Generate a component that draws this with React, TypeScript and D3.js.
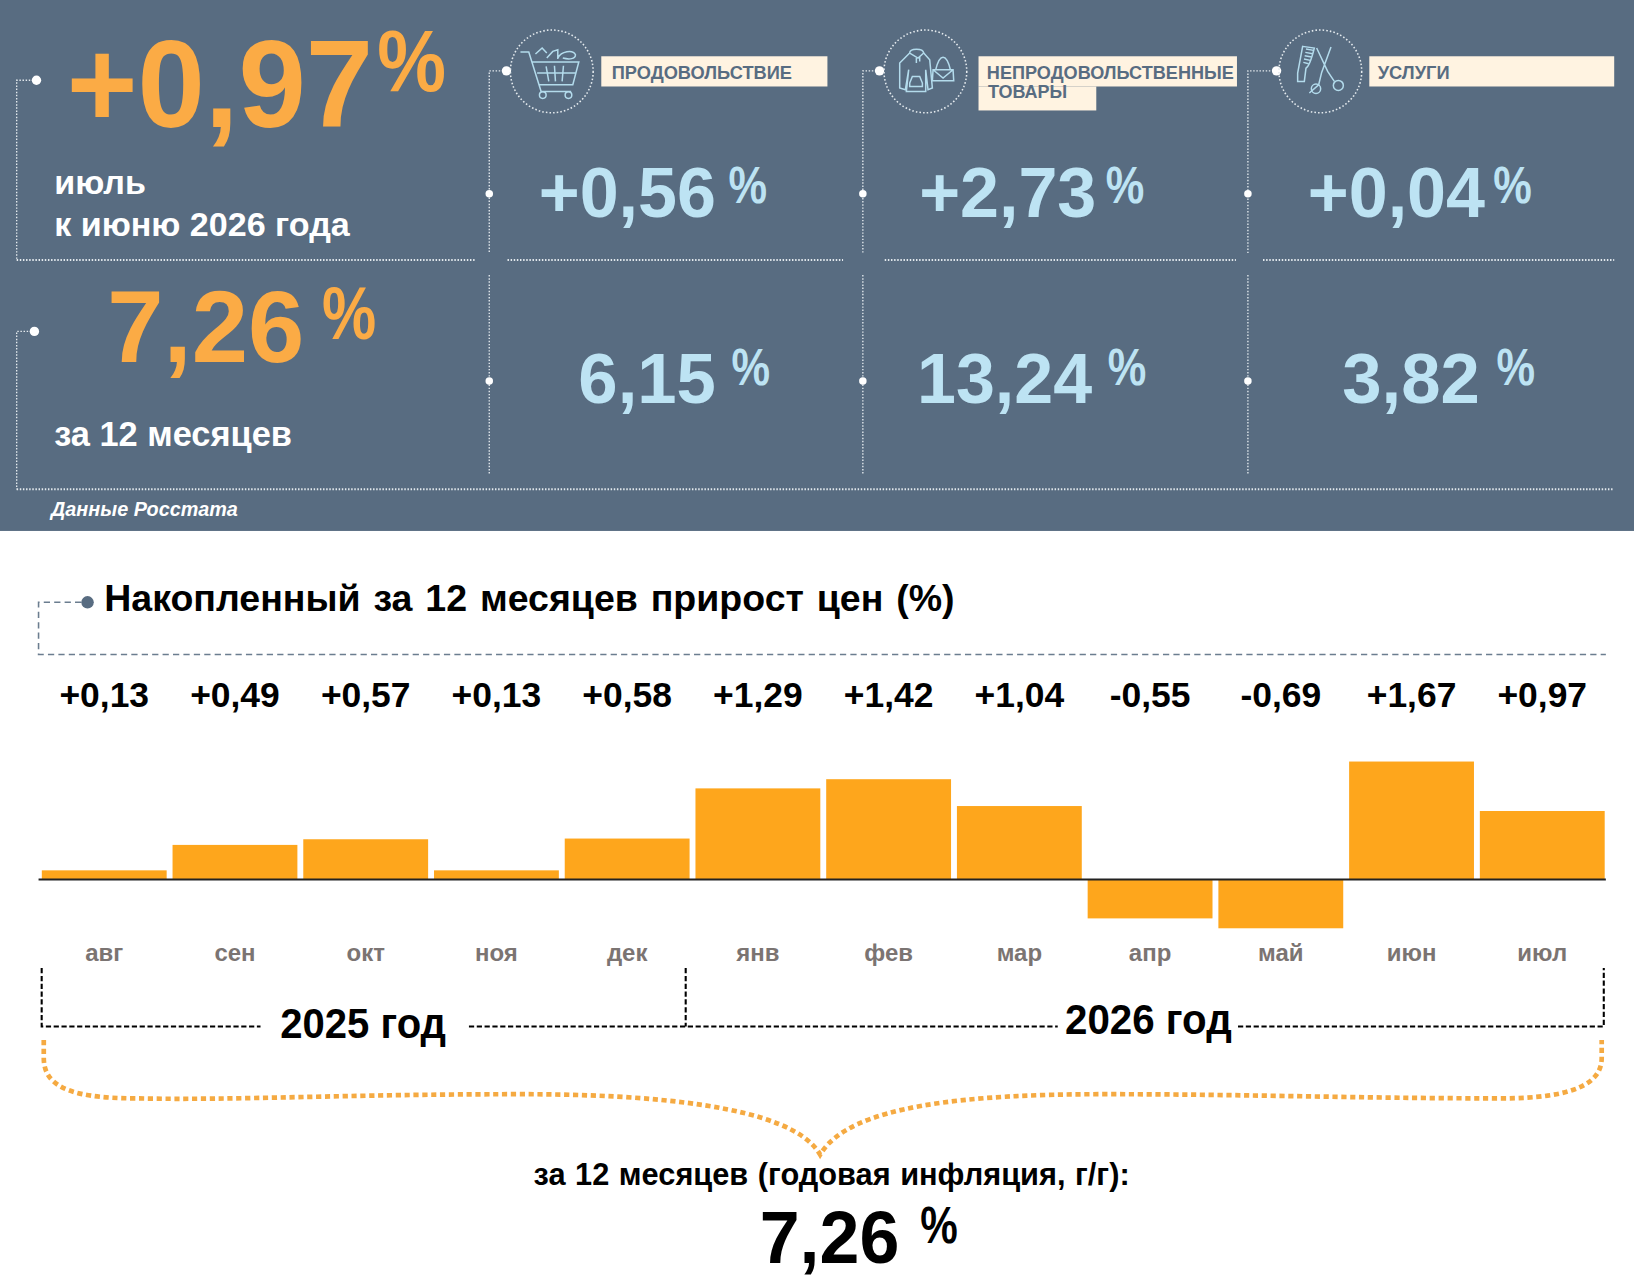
import React from "react";
import * as d3 from "d3";

const months = ["авг","сен","окт","ноя","дек","янв","фев","мар","апр","май","июн","июл"];
const monthlyValues = [0.13,0.49,0.57,0.13,0.58,1.29,1.42,1.04,-0.55,-0.69,1.67,0.97];
const monthlyLabels = ["+0,13","+0,49","+0,57","+0,13","+0,58","+1,29","+1,42","+1,04","-0,55","-0,69","+1,67","+0,97"];
const categories = ["ПРОДОВОЛЬСТВИЕ","НЕПРОДОВОЛЬСТВЕННЫЕ","УСЛУГИ"];
const monthOnMonth = ["+0,56","+2,73","+0,04"];
const yearOnYear = ["6,15","13,24","3,82"];

const W = 1568, H = W * 1282 / 1634;
const PANEL = "#586c81", ORANGE = "#fbab45", BAR = "#fea61c", BLUE = "#bde3f3", BEIGE = "#fff3e1", DOT = "#e4eaee";
const FONT = "'Liberation Sans', Arial, sans-serif";

const T = ({x,y,s,c,children,w,anchor,italic,ws}: any) => (
  <text x={x} y={y} fontSize={s} fill={c} fontWeight="700" fontStyle={italic?"italic":"normal"} fontFamily={FONT}
    textAnchor={anchor||"start"} wordSpacing={ws}
    {...(w?{textLength:w,lengthAdjust:"spacingAndGlyphs"}:{})}>{children}</text>
);
const Dotted = ({d,sw=1.3}: any) => <path d={d} fill="none" stroke={DOT} strokeWidth={sw} strokeDasharray="1.4 1.6"/>;
const Dot = ({x,y,r=4.5}: any) => <circle cx={x} cy={y} r={r} fill="#fff"/>;

const CartIcon = () => (<>
  <path d="M93,97 L118,97 L155,215 L245,215 M128,127 L268,127 L250,195 L150,195 M143,160 L258,160 M170,140 L178,185 M195,138 L198,185 M222,138 L218,185"/>
  <circle cx={160} cy={226} r={10}/><circle cx={237} cy={226} r={10}/>
  <path d="M138,103 L158,85 L172,100 M172,115 L190,95 L205,90 L205,118 M205,115 C215,95 250,88 258,105 C258,118 240,120 220,115"/>
</>);
const ClothesIcon = () => (<>
  <path d="M150,100 C150,85 190,85 192,100 L175,115 Z M170,115 L170,130 M180,112 L180,125"/>
  <path d="M135,115 L150,100 M192,100 L210,120 L218,205 L205,210 L198,150 M135,115 L120,130 L120,205 L137,210 L147,150 M147,150 L140,215 L198,215 L198,150"/>
  <path d="M150,190 L158,170 L180,170 L188,190 L188,200 L150,200 Z"/>
  <path d="M220,150 L280,150 L282,183 L218,183 Z M228,150 C240,100 260,100 272,150 M220,150 L250,175 L280,150"/>
</>);
const ScissorsIcon = () => (<>
  <path d="M130,80 L165,85 C160,105 150,140 140,145 L135,185 L115,185 L115,160 Z"/>
  <path d="M140,88 L163,92 M138,98 L160,102 M136,108 L157,112 M134,118 L153,122 M132,128 L148,132"/>
  <path d="M172,85 L205,155 L225,185 M215,82 L187,158 L178,195 L150,220"/>
  <circle cx={237} cy={197} r={15}/><circle cx={170} cy={207} r={14}/>
</>);
const icons = [CartIcon, ClothesIcon, ScissorsIcon];
const iconPos = [{cx:529.5,cy:68.5,ox:187,oy:155},{cx:888,cy:68.5,ox:197,oy:155},{cx:1267,cy:68.5,ox:183,oy:155}];

export default function App() {
  const x = d3.scaleBand<string>().domain(months).range([37.3,1542.7]).paddingInner(0.045).paddingOuter(0.0225);
  const y = d3.scaleLinear().domain([0,1]).range([844,776.2]);
  const cols = [469.5,828,1197.5];
  const valX = [517,882,1255], pctX = [699,1061,1433];
  const val2X = [555,880,1288], pct2X = [702,1063,1436];
  const brace = "M42,998 L42,1015 C42,1040 62,1054 130,1054 C230,1056 330,1050 500,1050 C620,1050 760,1060 787,1108 C815,1060 930,1050 1060,1050 C1200,1050 1300,1054 1440,1054 C1510,1054 1537,1040 1537,1015 L1537,998";
  return (
    <svg width={1634} height={1282} viewBox={`0 0 ${W} ${H}`} style={{position:"absolute",left:0,top:0,background:"#fff"}}>
      <rect x={0} y={0} width={W} height={509.5} fill={PANEL}/>
      <Dotted d="M35,77 L16,77 L16,249.5"/>
      <Dotted d="M33,318 L16,318 L16,469.5"/>
      <Dotted sw={2} d="M16,249.5 L456,249.5 M487,249.5 L809,249.5 M849,249.5 L1186,249.5 M1212,249.5 L1549,249.5 M16,469.5 L1549,469.5"/>
      <Dot x={35} y={77}/><Dot x={33} y={318}/>
      {cols.map((c,i)=>(<g key={c}>
        <Dotted d={`M${[486,844,1225][i]},68 L${c},68 L${c},243 M${c},264 L${c},456`}/>
        <Dot x={[486,844,1225][i]} y={68}/>
        <Dot x={c} y={186} r={3.6}/><Dot x={c} y={365.5} r={3.6}/>
      </g>))}
      {iconPos.map((p,i)=>{const Ic=icons[i];return(<g key={i}>
        <circle cx={p.cx} cy={p.cy} r={39.7} fill="none" stroke={DOT} strokeWidth={1.5} strokeDasharray="1.5 2"/>
        <g transform={`translate(${p.cx},${p.cy}) scale(0.32) translate(${-p.ox},${-p.oy})`} fill="none" stroke="#b3dbec" strokeWidth={4.5}><Ic/></g>
      </g>);})}

      <T x={64} y={122} s={120} c={ORANGE} w={294}>+0,97</T>
      <T x={362} y={87} s={84} c={ORANGE} w={66}>%</T>
      <T x={52} y={186} s={32.7} c="#fff">июль</T>
      <T x={52} y={226} s={32.7} c="#fff">к июню 2026 года</T>
      <T x={103} y={347} s={98} c={ORANGE} w={189}>7,26</T>
      <T x={309} y={325} s={72} c={ORANGE} w={52}>%</T>
      <T x={52} y={428} s={33} c="#fff">за 12 месяцев</T>
      <T x={49} y={495} s={19} c="#fff" italic>Данные Росстата</T>

      <rect x={577} y={54} width={217} height={29} fill={BEIGE}/>
      <rect x={939} y={54} width={248} height={29} fill={BEIGE}/>
      <rect x={939} y={83} width={113} height={23} fill={BEIGE}/>
      <rect x={1314} y={54} width={235} height={29} fill={BEIGE}/>
      <T x={587} y={75.5} s={18} c={PANEL} w={173}>{categories[0]}</T>
      <T x={947} y={75.5} s={18} c={PANEL} w={237}>{categories[1]}</T>
      <T x={948} y={94.5} s={18} c={PANEL} w={76}>ТОВАРЫ</T>
      <T x={1322} y={75.5} s={18} c={PANEL} w={69}>{categories[2]}</T>

      {monthOnMonth.map((v,i)=>(<g key={v}>
        <T x={valX[i]} y={208} s={68} c={BLUE} w={170}>{v}</T>
        <T x={pctX[i]} y={195} s={50} c={BLUE} w={37}>%</T>
      </g>))}
      {yearOnYear.map((v,i)=>(<g key={v}>
        <T x={val2X[i]} y={387} s={68} c={BLUE} w={i===1?168:132}>{v}</T>
        <T x={pct2X[i]} y={369} s={50} c={BLUE} w={37}>%</T>
      </g>))}

      <circle cx={84} cy={578} r={6} fill={PANEL}/>
      <path d="M78,578 L37,578 L37,628 L1541,628" fill="none" stroke="#6b7d8f" strokeWidth={1.5} strokeDasharray="6 4"/>
      <T x={100} y={586} s={36} c="#000" ws={2.4}>Накопленный за 12 месяцев прирост цен (%)</T>

      {months.map((m,i)=>{
        const cx = x(m)! + x.bandwidth()/2, v = monthlyValues[i];
        return (<g key={m}>
          <T x={cx} y={678} s={34} c="#000" anchor="middle">{monthlyLabels[i]}</T>
          <rect x={x(m)} y={Math.min(y(v),y(0))} width={x.bandwidth()} height={Math.abs(y(v)-y(0))} fill={BAR}/>
          <T x={cx} y={922} s={23} c="#7b7472" anchor="middle">{m}</T>
        </g>);
      })}
      <line x1={37} x2={1541} y1={y(0)} y2={y(0)} stroke="#222" strokeWidth={2}/>

      <path d="M40,929 L40,985 L250,985 M450,985 L1015,985 M658,929 L658,985 M1188,985 L1539,985 L1539,929" fill="none" stroke="#000" strokeWidth={2} strokeDasharray="5 2.5"/>
      <T x={269} y={996} s={40} c="#000" w={159}>2025 год</T>
      <T x={1022} y={992} s={40} c="#000" w={160}>2026 год</T>
      <path d={brace} fill="none" stroke="#f5aa42" strokeWidth={4.5} strokeDasharray="5 3.5"/>
      <T x={512} y={1137} s={29.5} c="#000" ws={1}>за 12 месяцев (годовая инфляция, г/г):</T>
      <T x={729} y={1212} s={72} c="#000" w={134}>7,26</T>
      <T x={883} y={1193} s={50} c="#000" w={36}>%</T>
    </svg>
  );
}
